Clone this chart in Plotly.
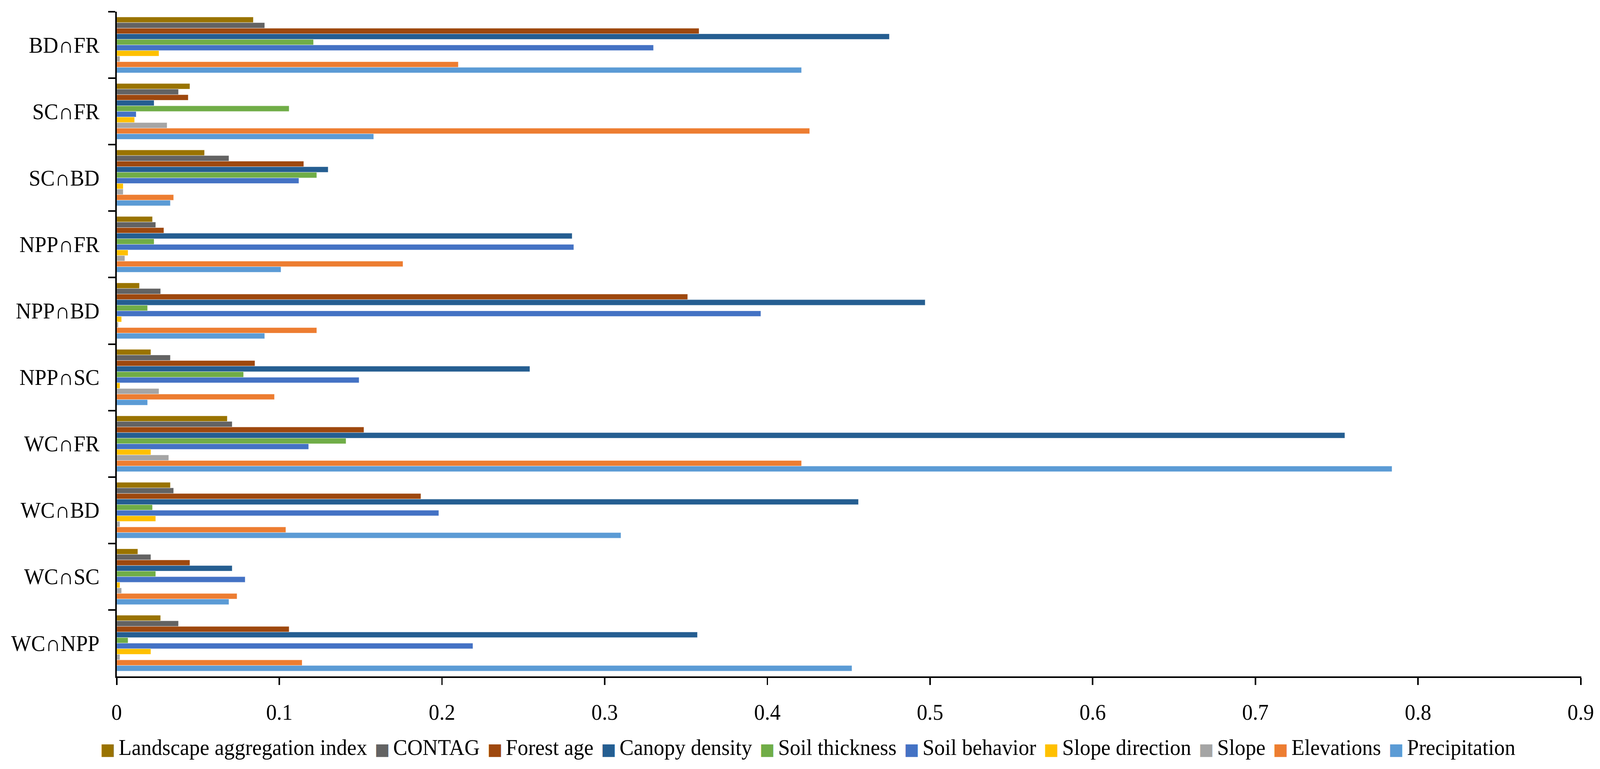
import plotly.graph_objects as go

categories = ["BD∩FR", "SC∩FR", "SC∩BD", "NPP∩FR", "NPP∩BD", "NPP∩SC",
              "WC∩FR", "WC∩BD", "WC∩SC", "WC∩NPP"]

landscape_aggregation_index = [0.084, 0.045, 0.054, 0.022, 0.014, 0.021, 0.068, 0.033, 0.013, 0.027]
contag = [0.091, 0.038, 0.069, 0.024, 0.027, 0.033, 0.071, 0.035, 0.021, 0.038]
forest_age = [0.358, 0.044, 0.115, 0.029, 0.351, 0.085, 0.152, 0.187, 0.045, 0.106]
canopy_density = [0.475, 0.023, 0.130, 0.280, 0.497, 0.254, 0.755, 0.456, 0.071, 0.357]
soil_thickness = [0.121, 0.106, 0.123, 0.023, 0.019, 0.078, 0.141, 0.022, 0.024, 0.007]
soil_behavior = [0.330, 0.012, 0.112, 0.281, 0.396, 0.149, 0.118, 0.198, 0.079, 0.219]
slope_direction = [0.026, 0.011, 0.004, 0.007, 0.003, 0.002, 0.021, 0.024, 0.002, 0.021]
slope = [0.002, 0.031, 0.004, 0.005, 0.001, 0.026, 0.032, 0.002, 0.003, 0.002]
elevations = [0.210, 0.426, 0.035, 0.176, 0.123, 0.097, 0.421, 0.104, 0.074, 0.114]
precipitation = [0.421, 0.158, 0.033, 0.101, 0.091, 0.019, 0.784, 0.310, 0.069, 0.452]

series_names = ["Landscape aggregation index", "CONTAG", "Forest age", "Canopy density",
                "Soil thickness", "Soil behavior", "Slope direction", "Slope",
                "Elevations", "Precipitation"]
series_values = [landscape_aggregation_index, contag, forest_age, canopy_density,
                 soil_thickness, soil_behavior, slope_direction, slope,
                 elevations, precipitation]
series_colors = ["#997300", "#636363", "#9E480E", "#255E91", "#70AD47",
                 "#4472C4", "#FFC000", "#A5A5A5", "#ED7D31", "#5B9BD5"]

x_ticks = [0, 0.1, 0.2, 0.3, 0.4, 0.5, 0.6, 0.7, 0.8, 0.9]
x_tick_labels = ["0", "0.1", "0.2", "0.3", "0.4", "0.5", "0.6", "0.7", "0.8", "0.9"]

FONT = "Liberation Serif, Times New Roman, DejaVu Serif, serif"
NBSP = "\u00a0"
W, H = 4224, 1968

fig = go.Figure()
for name, vals, col in zip(series_names, series_values, series_colors):
    fig.add_trace(go.Bar(
        y=categories, x=vals, name=name, orientation="h",
        marker=dict(color=col, line=dict(color="rgba(255,255,255,0.7)", width=1)),
        showlegend=False,
    ))

# Legend drawn as a single text line with coloured square glyphs
legend_parts = []
for name, col in zip(series_names, series_colors):
    legend_parts.append(
        f"<span style='color:{col};font-size:42px;font-family:DejaVu Sans'>■</span>"
        f"<span style='font-size:36px'>{NBSP}</span>{name}"
    )
legend_text = f"<span style='font-size:80px'>{NBSP}</span>".join(legend_parts)

fig.add_annotation(
    text=legend_text, xref="paper", yref="paper", x=0.472, y=-0.102,
    xanchor="center", yanchor="middle", showarrow=False,
    font=dict(family=FONT, size=56, color="black"),
)

fig.update_layout(
    width=W, height=H, autosize=False,
    barmode="group", bargap=0.16, bargroupgap=0,
    paper_bgcolor="white", plot_bgcolor="white",
    font=dict(family=FONT, size=56, color="black"),
    margin=dict(l=308, r=50, t=30, b=237),
    showlegend=False,
)

fig.update_xaxes(
    range=[0, 0.9002], tickvals=x_ticks, ticktext=x_tick_labels,
    showgrid=False, zeroline=False,
    showline=True, linecolor="black", linewidth=4,
    ticks="outside", ticklen=18, tickwidth=4, tickcolor="black",
    ticklabelstandoff=22,
    tickfont=dict(family=FONT, size=56, color="black"),
)
fig.update_yaxes(
    categoryorder="array", categoryarray=categories, autorange="reversed",
    showgrid=False, zeroline=False,
    showline=True, linecolor="black", linewidth=4,
    ticks="outside", ticklen=18, tickwidth=4, tickcolor="black",
    tickson="boundaries", ticklabelstandoff=30,
    tickfont=dict(family=FONT, size=56, color="black"),
)

# Fit the fixed-size figure exactly into whatever viewport the page gets
post = (
    "document.documentElement.style.overflow='hidden';"
    "document.documentElement.style.margin='0';"
    "document.body.style.margin='0';document.body.style.overflow='hidden';"
    "var gd=document.getElementById('{plot_id}');"
    f"var sx=window.innerWidth/{W}, sy=window.innerHeight/{H};"
    "gd.style.transformOrigin='0 0';"
    "gd.style.transform='scale('+sx+','+sy+')';"
)

fig.write_html(
    "out.html",
    config={"displayModeBar": False},
    post_script=post,
)
